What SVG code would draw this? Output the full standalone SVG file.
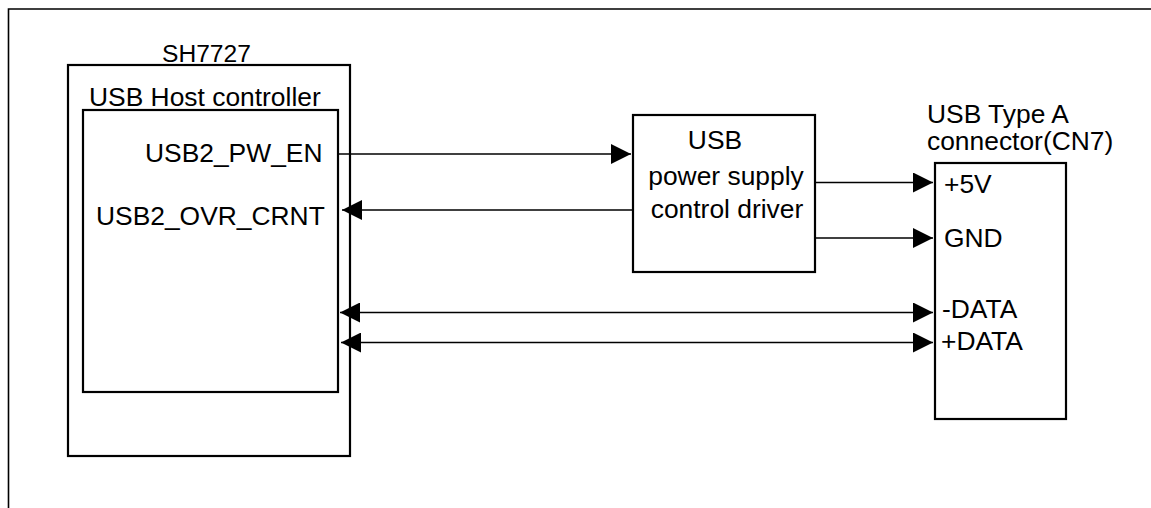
<svg xmlns="http://www.w3.org/2000/svg" width="1151" height="508" viewBox="0 0 1151 508">
<style>
.box{fill:#fff;stroke:#000;stroke-width:2.2}
.ln{stroke:#000;stroke-width:1.6;fill:none}
text{font-family:"Liberation Sans",Arial,sans-serif;font-size:26.4px;fill:#000}
</style>
<defs>
<marker id="ah" viewBox="0 0 20 20" refX="20" refY="10" markerWidth="20" markerHeight="20" markerUnits="userSpaceOnUse" orient="auto-start-reverse">
<path d="M0,0 L20,10 L0,20 Z" fill="#000"/>
</marker>
</defs>
<rect width="1151" height="508" fill="#fff"/>
<g id="frame">
<path d="M8.5,508 V9 H1151" class="ln"/>
</g>
<g id="sh7727">
<rect x="68" y="65" width="282" height="391" class="box"/>
<text x="162" y="62" style="font-size:24.6px">SH7727</text>
</g>
<g id="usb-host">
<rect x="83" y="110" width="255" height="282" class="box"/>
<text x="89" y="106">USB Host controller</text>
<text x="145" y="162">USB2_PW_EN</text>
<text x="96" y="225">USB2_OVR_CRNT</text>
</g>
<g id="driver">
<rect x="633" y="115" width="182" height="157" class="box"/>
<text x="715" y="149" text-anchor="middle">USB</text>
<text x="726" y="185" text-anchor="middle">power supply</text>
<text x="727" y="218" text-anchor="middle">control driver</text>
</g>
<g id="connector">
<rect x="935" y="163" width="131" height="256" class="box"/>
<text x="927" y="123">USB Type A</text>
<text x="927" y="150">connector(CN7)</text>
<text x="944" y="193">+5V</text>
<text x="944" y="247">GND</text>
<text x="942" y="318">-DATA</text>
<text x="941" y="350">+DATA</text>
</g>
<g id="connectors">
<line x1="338" y1="154" x2="631" y2="154" class="ln" marker-end="url(#ah)"/>
<line x1="633" y1="210" x2="342" y2="210" class="ln" marker-end="url(#ah)"/>
<line x1="815" y1="182.5" x2="933" y2="182.5" class="ln" marker-end="url(#ah)"/>
<line x1="815" y1="238" x2="933" y2="238" class="ln" marker-end="url(#ah)"/>
<line x1="340" y1="312.5" x2="933" y2="312.5" class="ln" marker-start="url(#ah)" marker-end="url(#ah)"/>
<line x1="341" y1="342.5" x2="933" y2="342.5" class="ln" marker-start="url(#ah)" marker-end="url(#ah)"/>
</g>
</svg>
